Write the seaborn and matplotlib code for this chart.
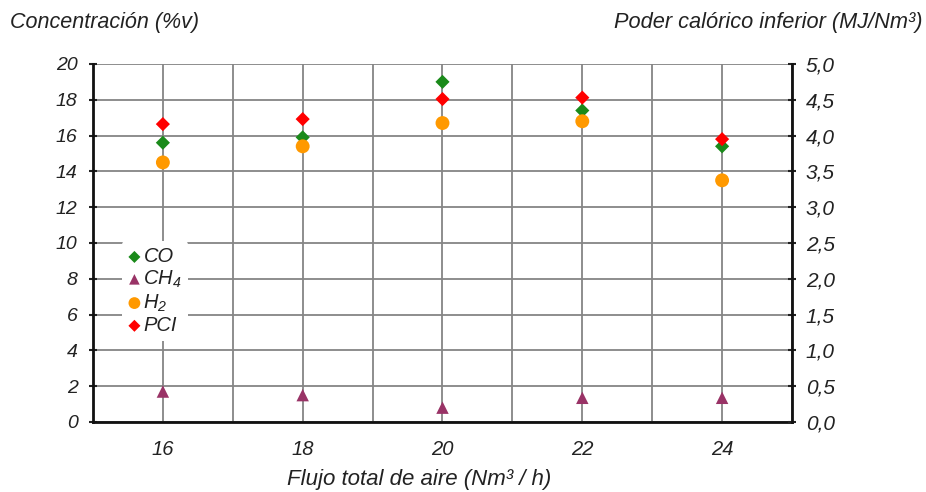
import seaborn as sns
import matplotlib.pyplot as plt
from matplotlib.ticker import FixedLocator, FuncFormatter

# valores
flujo = [16, 18, 20, 22, 24]
co = [15.6, 15.9, 19.0, 17.4, 15.4]
ch4 = [1.7, 1.5, 0.8, 1.35, 1.35]
h2 = [14.5, 15.4, 16.7, 16.8, 13.5]
pci = [4.16, 4.23, 4.51, 4.53, 3.95]

left_ticks = list(range(0, 21, 2))
right_ticks = [0.0, 0.5, 1.0, 1.5, 2.0, 2.5, 3.0, 3.5, 4.0, 4.5, 5.0]

sns.set_style("white")
plt.rcParams["font.family"] = ["Liberation Sans", "DejaVu Sans"]
plt.rcParams["font.style"] = "italic"
plt.rcParams["mathtext.fontset"] = "custom"
plt.rcParams["mathtext.rm"] = "Liberation Sans:italic"
plt.rcParams["mathtext.it"] = "Liberation Sans:italic"

fig, ax = plt.subplots(figsize=(9.26, 4.92), dpi=100)
fig.subplots_adjust(left=0.1004, right=0.8553, top=0.870, bottom=0.1423)
ax2 = ax.twinx()

sns.scatterplot(x=flujo, y=co, marker="D", color="#1a8a1a", s=52,
                edgecolor="none", ax=ax, label="CO", legend=False)
sns.scatterplot(x=flujo, y=ch4, marker="^", color="#993366", s=80,
                edgecolor="none", ax=ax, label="CH$_4$", legend=False)
sns.scatterplot(x=flujo, y=h2, marker="o", color="#ff9900", s=100,
                edgecolor="none", ax=ax, label="H$_2$", legend=False)
sns.scatterplot(x=flujo, y=pci, marker="D", color="#ff0000", s=52,
                edgecolor="none", ax=ax2, label="PCI", legend=False)

ax.set_xlim(15, 25)
ax.set_ylim(0, 20)
ax2.set_ylim(0, 5)

ax.xaxis.set_major_locator(FixedLocator(flujo))
ax.xaxis.set_minor_locator(FixedLocator([15, 17, 19, 21, 23, 25]))
ax.set_yticks(left_ticks)
ax2.set_yticks(right_ticks)
ax2.yaxis.set_major_formatter(FuncFormatter(lambda v, p: f"{v:.1f}".replace(".", ",")))

ax.grid(True, which="both", axis="x", color="#858585", lw=1.3)
ax.grid(True, which="major", axis="y", color="#858585", lw=1.3)
ax.set_axisbelow(True)

ax.tick_params(axis="x", which="major", length=0, pad=13, labelsize=14.5, colors="#222222")
ax.tick_params(axis="x", which="minor", length=6, width=2, direction="inout", color="#111111")
ax.tick_params(axis="y", length=6, width=1.5, direction="inout", pad=8,
               labelsize=14, colors="#222222")
ax2.tick_params(axis="y", length=6, width=1.5, direction="inout", pad=7,
                labelsize=15, colors="#222222")

for s in ["top", "right"]:
    ax.spines[s].set_visible(False)
for s in ["top", "left", "bottom"]:
    ax2.spines[s].set_visible(False)
for a, s in [(ax, "left"), (ax, "bottom"), (ax2, "right")]:
    a.spines[s].set_color("#111111")
    a.spines[s].set_linewidth(2)

ax.set_xlabel("Flujo total de aire (Nm³ / h)", fontsize=16, color="#222222")
ax.xaxis.set_label_coords(0.467, -0.13)
ax.set_ylabel("")
ax2.set_ylabel("")

fig.text(0.011, 0.955, "Concentración (%v)", fontsize=15.5, va="center",
         ha="left", color="#222222")
fig.text(0.996, 0.955, "Poder calórico inferior (MJ/Nm³)", fontsize=15.7,
         va="center", ha="right", color="#222222")

h1, l1 = ax.get_legend_handles_labels()
h2_, l2 = ax2.get_legend_handles_labels()
leg = ax2.legend(h1 + h2_, l1 + l2, loc="upper left",
                 bbox_to_anchor=(0.042, 0.505), frameon=True, facecolor="white",
                 edgecolor="none", framealpha=1, fontsize=14.5, handlelength=0.6,
                 handletextpad=0.15, labelspacing=0.12, borderpad=0.3,
                 borderaxespad=0, markerscale=0.85)
for t in leg.get_texts():
    t.set_color("#222222")

fig.savefig("out.png", dpi=100)
